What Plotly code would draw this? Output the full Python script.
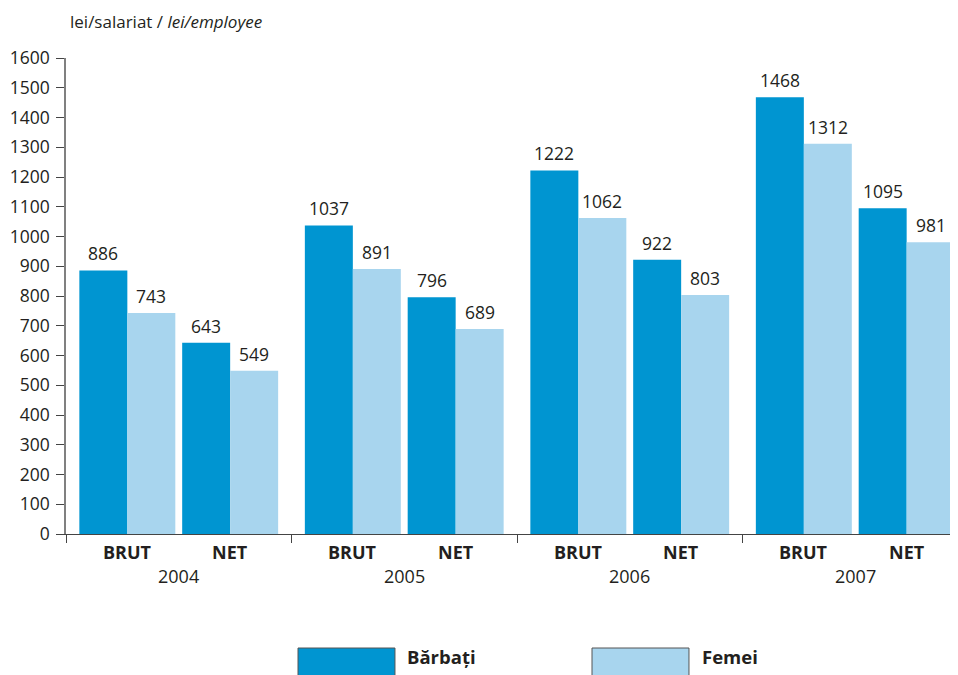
import plotly.graph_objects as go

years = ["2004", "2005", "2006", "2007"]
kinds = ["BRUT", "NET"]
series_names = ["Bărbați", "Femei"]
barbati = [886, 643, 1037, 796, 1222, 922, 1468, 1095]
femei = [743, 549, 891, 689, 1062, 803, 1312, 981]
y_ticks = list(range(0, 1700, 100))

colors = ["#0095d1", "#a8d5ee"]
FONT = "Open Sans"
TXT = "#231f20"

# positions of BRUT/NET clusters within each year group (group width = 1)
cluster_off = {"BRUT": 0.272, "NET": 0.728}
bw = 0.2128
xs = []
for yi, yr in enumerate(years):
    for k in kinds:
        xs.append(yi + cluster_off[k])

fig = go.Figure()
for name, vals, col, off in [(series_names[0], barbati, colors[0], -bw),
                              (series_names[1], femei, colors[1], 0)]:
    fig.add_trace(go.Bar(x=xs, y=vals, name=name, marker_color=col,
                         marker_line_width=0, width=bw, offset=off,
                         showlegend=False))

annotations = []
for vals, sign in [(barbati, -0.5), (femei, 0.5)]:
    for x, v in zip(xs, vals):
        annotations.append(dict(x=x + sign * bw, y=v, text=str(v), showarrow=False,
                                xref="x", yref="y", yanchor="bottom", yshift=3,
                                font=dict(family=FONT, size=17.5, color=TXT)))

# category labels
for yi, yr in enumerate(years):
    for k in kinds:
        annotations.append(dict(x=yi + cluster_off[k], y=-0.0378, text="<b>" + k + "</b>",
                                xref="x", yref="paper", showarrow=False, yanchor="middle",
                                font=dict(family=FONT, size=18, color=TXT)))
    annotations.append(dict(x=yi + 0.5, y=-0.0882, text=yr, xref="x", yref="paper",
                            showarrow=False, yanchor="middle",
                            font=dict(family=FONT, size=18, color=TXT)))

# axis title
annotations.append(dict(x=0.002, y=1.0777, xref="paper", yref="paper", xanchor="left",
                        yanchor="middle", showarrow=False,
                        text="lei/salariat / <i>lei/employee</i>",
                        font=dict(family=FONT, size=17, color=TXT)))

# legend
shapes = []
leg = [(0.2601, 0.3688, 0.380), (0.5897, 0.6984, 0.7108)]
for (x0, x1, tx), name, col in zip(leg, series_names, colors):
    shapes.append(dict(type="rect", xref="paper", yref="paper", x0=x0, x1=x1,
                       y0=-0.2985, y1=-0.2395, fillcolor=col,
                       line=dict(color="#555555", width=1)))
    annotations.append(dict(x=tx, y=-0.258, xref="paper", yref="paper", xanchor="left",
                            yanchor="middle", showarrow=False, text="<b>" + name + "</b>",
                            font=dict(family=FONT, size=18.5, color=TXT)))

fig.update_layout(
    width=950, height=667,
    margin=dict(l=58, r=0, t=50, b=141, autoexpand=False),
    paper_bgcolor="white", plot_bgcolor="white",
    barmode="overlay",
    annotations=annotations, shapes=shapes,
    xaxis=dict(range=[0, 892 / 225.5], tickvals=[0, 1, 2, 3], showticklabels=False,
               ticks="outside", ticklen=8, tickcolor="#444444", showgrid=False,
               zeroline=False, showline=True, linecolor="#444444", linewidth=1.3),
    yaxis=dict(range=[0, 1600], tickvals=y_ticks, ticks="outside", ticklen=8,
               tickcolor="#444444", showgrid=False, zeroline=False, showline=True,
               linecolor="#808080", linewidth=1.5, ticklabelstandoff=3,
               tickfont=dict(family=FONT, size=17.5, color=TXT)),
    font=dict(family=FONT, color=TXT),
)

fig.write_html("out.html")
